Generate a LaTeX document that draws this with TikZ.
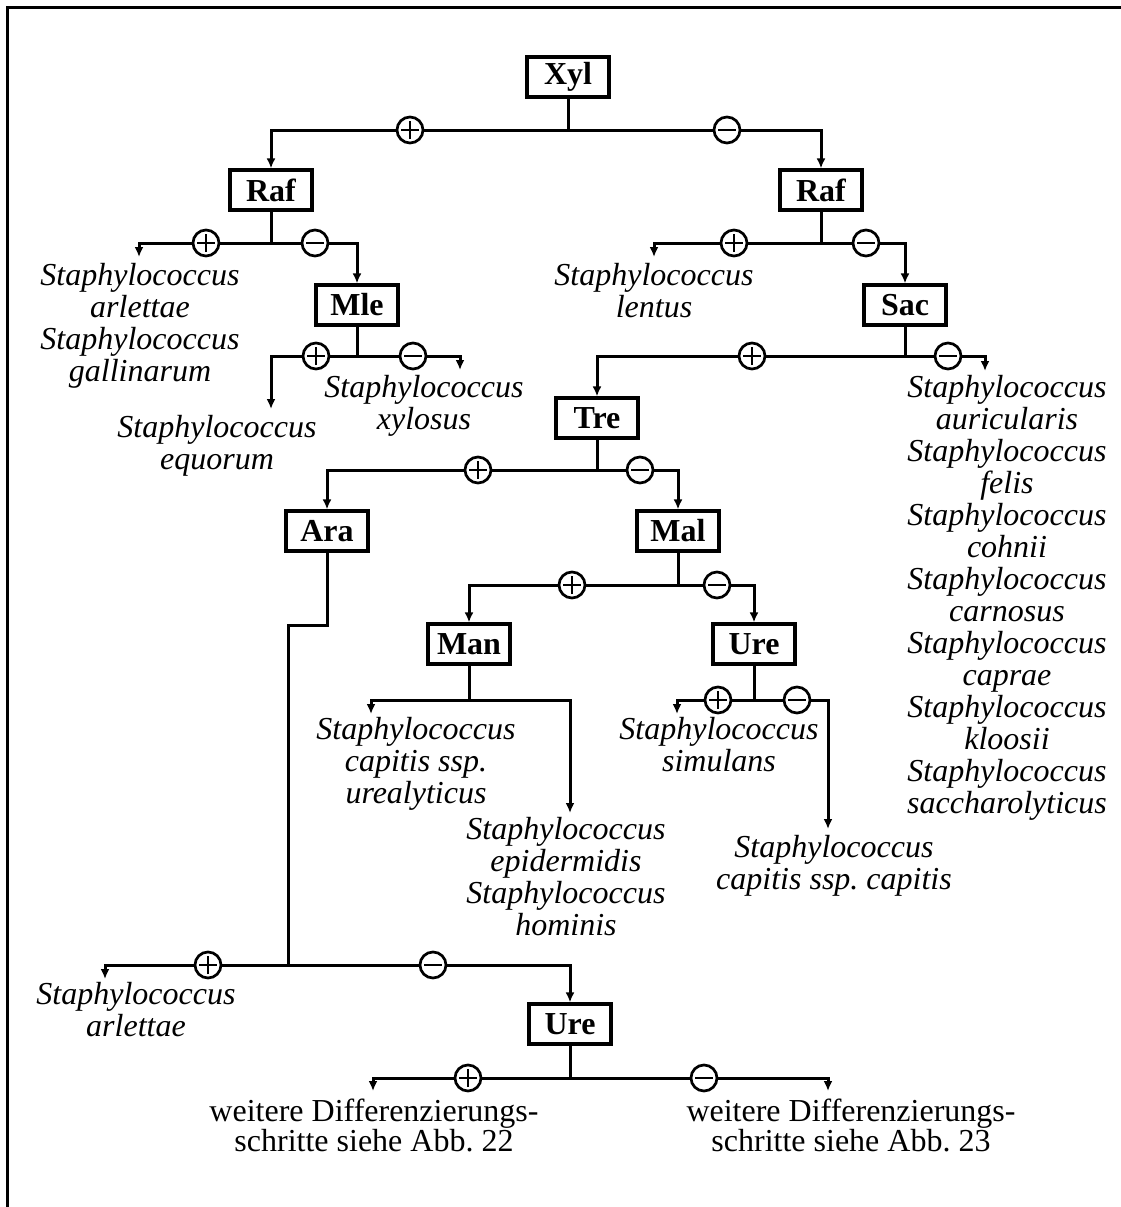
\documentclass[tikz,border=0pt]{standalone}
\usepackage{fontspec}
\setmainfont{Liberation Serif}
\usetikzlibrary{arrows.meta}
\frenchspacing
\begin{document}
\begin{tikzpicture}[x=1pt,y=-1pt,
  line width=3pt,
  arr/.style={-{Latex[length=10pt 0,width=9pt 0]}},
  testbox/.style={draw, line width=3.2pt, font=\fontsize{32}{32}\selectfont\bfseries,
    minimum width=82pt, minimum height=40pt, inner sep=0pt},
  % anchored at the baseline of the last line
  species/.style={font=\fontsize{32}{32}\selectfont\itshape, align=center, inner sep=0pt, anchor=base},
  note/.style={font=\fontsize{32}{30}\selectfont, align=center, inner sep=0pt, anchor=base},
  sign/.style={circle, draw, fill=white, line width=2.7pt, minimum size=26pt, inner sep=0pt},
  pnode/.style={sign, path picture={
      \draw[line width=2.4pt]
        ([xshift=-9pt]path picture bounding box.center) -- ([xshift=9pt]path picture bounding box.center)
        ([yshift=-9pt]path picture bounding box.center) -- ([yshift=9pt]path picture bounding box.center);}},
  mnode/.style={sign, path picture={
      \draw[line width=2.4pt]
        ([xshift=-9pt]path picture bounding box.center) -- ([xshift=9pt]path picture bounding box.center);}},
]
\useasboundingbox (0,0) rectangle (1121,1207);

% frame
\draw[line width=3pt] (7.5,1207) -- (7.5,7.5) -- (1121,7.5);

% test boxes
\node[testbox] (xyl)  at (568,77)   {Xyl};
\node[testbox] (rafl) at (271,190)  {Raf};
\node[testbox] (mle)  at (357,305)  {Mle};
\node[testbox] (rafr) at (821,190)  {Raf};
\node[testbox] (sac)  at (905,305)  {Sac};
\node[testbox] (tre)  at (597,418)  {Tre};
\node[testbox] (ara)  at (327,531)  {Ara};
\node[testbox] (mal)  at (678,531)  {Mal};
\node[testbox] (man)  at (469,644)  {Man};
\node[testbox] (urem) at (754,644)  {Ure};
\node[testbox] (ureb) at (570,1024) {Ure};

% species and notes
\node[species] (sArlGal) at (140,381) {Staphylococcus\\arlettae\\Staphylococcus\\gallinarum};
\node[species] (sEqu)    at (217,469) {Staphylococcus\\equorum};
\node[species] (sXyl)    at (424,429) {Staphylococcus\\xylosus};
\node[species] (sLen)    at (654,317) {Staphylococcus\\lentus};
\node[species] (sSacNeg) at (1007,813) {Staphylococcus\\auricularis\\Staphylococcus\\felis\\Staphylococcus\\cohnii\\Staphylococcus\\carnosus\\Staphylococcus\\caprae\\Staphylococcus\\kloosii\\Staphylococcus\\saccharolyticus};
\node[species] (sCapUre) at (416,803) {Staphylococcus\\capitis ssp.\\urealyticus};
\node[species] (sEpiHom) at (566,935) {Staphylococcus\\epidermidis\\Staphylococcus\\hominis};
\node[species] (sSim)    at (719,771) {Staphylococcus\\simulans};
\node[species] (sCapCap) at (834,889) {Staphylococcus\\capitis ssp. capitis};
\node[species] (sArl)    at (136,1036) {Staphylococcus\\arlettae};
\node[note] (nPos) at (374,1151) {weitere Differenzierungs-\\schritte siehe Abb. 22};
\node[note] (nNeg) at (851,1151) {weitere Differenzierungs-\\schritte siehe Abb. 23};

% junctions and free arrow ends
\coordinate (jXyl)  at (568,130);
\coordinate (jRafl) at (271,243);
\coordinate (jMle)  at (357,356);
\coordinate (jRafr) at (821,243);
\coordinate (jSac)  at (905,356);
\coordinate (jTre)  at (597,470);
\coordinate (jAra)  at (288,965);
\coordinate (jMal)  at (678,585);
\coordinate (jMan)  at (469,700);
\coordinate (jUrem) at (754,700);
\coordinate (jUreb) at (570,1078);

\coordinate (eArlGal) at (139,257);
\coordinate (eEqu)    at (271,409);
\coordinate (eXyl)    at (460,370);
\coordinate (eLen)    at (654,257);
\coordinate (eSacNeg) at (985,371);
\coordinate (eCapUre) at (371,714);
\coordinate (eEpiHom) at (570,813);
\coordinate (eSim)    at (677,714);
\coordinate (eCapCap) at (828,829);
\coordinate (eArl)    at (105,979);
\coordinate (ePos)    at (373,1091);
\coordinate (eNeg)    at (828,1091);

% connectors
\draw (xyl.south) -- (jXyl);
\draw[arr] (jXyl) -| (rafl.north);
\draw[arr] (jXyl) -| (rafr.north);

\draw (rafl.south) -- (jRafl);
\draw[arr] (jRafl) -| (eArlGal);
\draw[arr] (jRafl) -| (mle.north);

\draw (mle.south) -- (jMle);
\draw[arr] (jMle) -| (eEqu);
\draw[arr] (jMle) -| (eXyl);

\draw (rafr.south) -- (jRafr);
\draw[arr] (jRafr) -| (eLen);
\draw[arr] (jRafr) -| (sac.north);

\draw (sac.south) -- (jSac);
\draw[arr] (jSac) -| (tre.north);
\draw[arr] (jSac) -| (eSacNeg);

\draw (tre.south) -- (jTre);
\draw[arr] (jTre) -| (ara.north);
\draw[arr] (jTre) -| (mal.north);

\draw (ara.south) -- ++(0,73) -| (jAra);
\draw[arr] (jAra) -| (eArl);
\draw[arr] (jAra) -| (ureb.north);

\draw (mal.south) -- (jMal);
\draw[arr] (jMal) -| (man.north);
\draw[arr] (jMal) -| (urem.north);

\draw (man.south) -- (jMan);
\draw[arr] (jMan) -| (eCapUre);
\draw[arr] (jMan) -| (eEpiHom);

\draw (urem.south) -- (jUrem);
\draw[arr] (jUrem) -| (eSim);
\draw[arr] (jUrem) -| (eCapCap);

\draw (ureb.south) -- (jUreb);
\draw[arr] (jUreb) -| (ePos);
\draw[arr] (jUreb) -| (eNeg);

% plus / minus markers on the branches
\node[pnode] (pXyl)  at (410,130) {};
\node[mnode] (mXyl)  at (727,130) {};
\node[pnode] (pRafl) at (206,243) {};
\node[mnode] (mRafl) at (315,243) {};
\node[pnode] (pMle)  at (316,356) {};
\node[mnode] (mMle)  at (413,356) {};
\node[pnode] (pRafr) at (734,243) {};
\node[mnode] (mRafr) at (866,243) {};
\node[pnode] (pSac)  at (752,356) {};
\node[mnode] (mSac)  at (948,356) {};
\node[pnode] (pTre)  at (478,470) {};
\node[mnode] (mTre)  at (640,470) {};
\node[pnode] (pMal)  at (572,585) {};
\node[mnode] (mMal)  at (717,585) {};
\node[pnode] (pUrem) at (718,700) {};
\node[mnode] (mUrem) at (797,700) {};
\node[pnode] (pAra)  at (208,965) {};
\node[mnode] (mAra)  at (433,965) {};
\node[pnode] (pUreb) at (468,1078) {};
\node[mnode] (mUreb) at (704,1078) {};
\end{tikzpicture}
\end{document}
